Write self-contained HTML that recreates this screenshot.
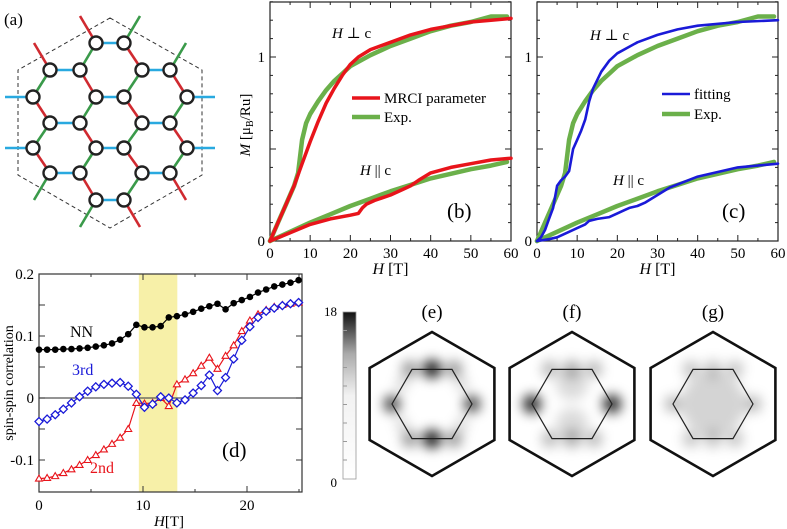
<!DOCTYPE html>
<html><head><meta charset="utf-8"><style>
body{margin:0;background:#fff}
svg{display:block}
svg text{font-family:"Liberation Serif","DejaVu Serif",serif}
</style></head><body>
<svg id="fig" width="787" height="529" viewBox="0 0 787 529" xmlns="http://www.w3.org/2000/svg" font-family="Liberation Serif, serif">
<defs>
<filter id="blur" x="-50%" y="-50%" width="200%" height="200%"><feGaussianBlur stdDeviation="6"/></filter>
<linearGradient id="cbar" x1="0" y1="1" x2="0" y2="0">
<stop offset="0" stop-color="#fff"/><stop offset="0.5" stop-color="#f2f2f2"/><stop offset="0.75" stop-color="#aaa"/><stop offset="1" stop-color="#111"/></linearGradient>
</defs>
<g id="pa"></g>
<g id="pb"></g>
<g id="pc"></g>
<g id="pd"></g>
<g id="pe"></g>
</svg>
<script>
// ---------- data ----------
const mrciPerpH=[0,2,4,6,8,10,12,14,16,18,20,22,25,30,35,40,45,50,55,60];
const mrciPerp=[0,0.1,0.2,0.3,0.42,0.54,0.65,0.75,0.83,0.9,0.96,1.0,1.04,1.08,1.12,1.15,1.17,1.19,1.2,1.21];
const expPerpH=[0,2,4,6,7,8,9,10,12,14,16,18,20,25,30,35,40,45,50,55,59];
const expPerp=[0,0.1,0.2,0.3,0.37,0.55,0.64,0.69,0.76,0.82,0.87,0.91,0.95,1.01,1.06,1.1,1.14,1.17,1.19,1.22,1.22];
const mrciParH=[0,5,10,15,20,22,23,24,26,30,33,35,37,40,45,50,55,60];
const mrciPar=[0,0.045,0.09,0.12,0.14,0.15,0.18,0.2,0.22,0.25,0.28,0.3,0.33,0.37,0.4,0.42,0.44,0.45];
const expParH=[0,5,10,15,20,25,30,35,40,45,50,55,59];
const expPar=[0,0.05,0.1,0.145,0.19,0.23,0.27,0.305,0.34,0.365,0.39,0.41,0.43];
const fitPerpH=[0,1,2,3,4,5,6,7,8,9,10,11,12,13,14,16,18,20,25,30,35,40,50,60];
const fitPerp=[0,0.02,0.06,0.12,0.18,0.3,0.33,0.35,0.38,0.5,0.55,0.6,0.66,0.76,0.83,0.92,0.98,1.02,1.08,1.12,1.15,1.17,1.19,1.2];
const fitParH=[0,3,5,8,10,12,13,15,18,20,22,23,25,27,30,33,40,50,60];
const fitPar=[0,0.01,0.02,0.05,0.07,0.09,0.11,0.12,0.13,0.15,0.17,0.18,0.19,0.21,0.25,0.29,0.35,0.4,0.42];
const mTicks=["0","1"];
const hTicks=["0","10","20","30","40","50","60"];
const corrNN=[0.078,0.078,0.078,0.079,0.079,0.080,0.081,0.083,0.085,0.088,0.094,0.103,0.118,0.114,0.114,0.116,0.130,0.132,0.135,0.139,0.144,0.148,0.152,0.143,0.153,0.158,0.163,0.170,0.175,0.180,0.183,0.186,0.190];
const corr3rd=[-0.038,-0.034,-0.027,-0.018,-0.008,0.002,0.011,0.018,0.022,0.024,0.025,0.019,0.006,-0.015,-0.010,0.002,0.000,-0.008,-0.003,0.008,0.020,0.037,0.012,0.033,0.063,0.093,0.115,0.130,0.140,0.145,0.149,0.152,0.154];
const corr2nd=[-0.130,-0.129,-0.126,-0.121,-0.115,-0.108,-0.100,-0.092,-0.083,-0.074,-0.064,-0.050,-0.008,-0.009,-0.008,0.000,-0.013,0.022,0.030,0.040,0.052,0.065,0.047,0.068,0.085,0.108,0.125,0.135,0.142,0.147,0.150,0.152,0.154];
const corrStep=0.78;
const dYTicks=[0.2,0.1,0,-0.1];
const dYLabels=["0.2","0.1","0","-0.1"];
const dXTicks=["0","10","20"];
const bandRange=[9.6,13.3];

const NS="http://www.w3.org/2000/svg";
function mk(parent,tag,attrs,text){const e=document.createElementNS(NS,tag);for(const k in attrs)e.setAttribute(k,attrs[k]);if(tag==='text')e.setAttribute('font-family','Liberation Serif, DejaVu Serif, serif');if(text!==undefined)e.textContent=text;parent.appendChild(e);return e;}

// ---------- panel a ----------
const pa=document.getElementById('pa');
const A=[[96,43],[50,70],[142,70],[96,97],[50,123],[142,123],[96,148],[50,173],[142,173],[96,200],[187,97],[187,148]];
const B=[[124,43],[80,70],[170,70],[124,97],[33,97],[80,123],[170,123],[124,148],[33,148],[80,173],[170,173],[124,200]];
let hx=mk(pa,'polygon',{points:"110,18 202,70 202,175 110,228 18,175 18,70",fill:"none",stroke:"#333","stroke-dasharray":"4,3","stroke-width":1});

function find(list,x,y){return list.find(p=>Math.abs(p[0]-x)<6&&Math.abs(p[1]-y)<6);}
const vecsA=[[28,0,'#29a9e0'],[-16,27,'#3a9a4a'],[-16,-27,'#d02a30']];
A.forEach(p=>vecsA.forEach(v=>{const tx=p[0]+v[0],ty=p[1]+v[1];const q=find(B,tx,ty)||[tx,ty];
 let l=mk(pa,'line',{x1:p[0],y1:p[1],x2:q[0],y2:q[1],stroke:v[2],"stroke-width":2.6});
 }));
const vecsB=[[-28,0,'#29a9e0'],[16,27,'#d02a30'],[16,-27,'#3a9a4a']];
B.forEach(p=>vecsB.forEach(v=>{const tx=p[0]+v[0],ty=p[1]+v[1];if(find(A,tx,ty))return;
 let l=mk(pa,'line',{x1:p[0],y1:p[1],x2:tx,y2:ty,stroke:v[2],"stroke-width":2.6});
 }));
A.concat(B).forEach(p=>{let c=mk(pa,'circle',{cx:p[0],cy:p[1],r:6.5,fill:"#fff",stroke:"#222","stroke-width":2.4});
 });
let ta=mk(pa,'text',{x:4,y:25,"font-size":17},"(a)");

// ---------- panels b, c ----------
function magPanel(g,x0,x1,series,leg,label,perpPos,parPos){
 const y0=241,yTop=2,ppu=184;
 const xs=h=>x0+h*(x1-x0)/60, ys=m=>y0-m*ppu;
 let box=mk(g,'rect',{x:x0,y:yTop,width:x1-x0,height:y0-yTop,fill:"none",stroke:"#222","stroke-width":1.2});
 
 for(let h=0;h<=60;h+=5){const L=h%10==0?6:3;
  mk(g,'line',{x1:xs(h),x2:xs(h),y1:y0,y2:y0-L,stroke:"#222"});mk(g,'line',{x1:xs(h),x2:xs(h),y1:yTop,y2:yTop+L,stroke:"#222"});}
 for(let m=0;m<=13;m++){const L=m%5==0?6:3;
  mk(g,'line',{x1:x0,x2:x0+L,y1:ys(m/10),y2:ys(m/10),stroke:"#222"});mk(g,'line',{x1:x1,x2:x1-L,y1:ys(m/10),y2:ys(m/10),stroke:"#222"});}
 hTicks.forEach((t,i)=>{let e=mk(g,'text',{x:xs(i*10),y:258,"font-size":15,"text-anchor":"middle"},t);
  });
 mTicks.forEach((t,i)=>{let e=mk(g,'text',{x:x0-5,y:ys(i)+5,"font-size":15,"text-anchor":"end"},t);
  });
 let xt=mk(g,'text',{x:(x0+x1)/2,y:274,"font-size":16,"text-anchor":"middle"});
 xt.innerHTML='<tspan font-style="italic">H</tspan> [T]';
 series.forEach(s=>{const pts=s.h.map((h,i)=>xs(h).toFixed(1)+','+ys(s.m[i]).toFixed(1)).join(' ');
  let p=mk(g,'polyline',{points:pts,fill:"none",stroke:s.c,"stroke-width":s.w,"stroke-linejoin":"round","stroke-linecap":"round"});
  });
 leg.forEach(l=>{let lg=mk(g,'g',{});
  mk(lg,'line',{x1:l.x,x2:l.x+28,y1:l.y,y2:l.y,stroke:l.c,"stroke-width":l.w});
  mk(lg,'text',{x:l.x+32,y:l.y+5,"font-size":15},l.t);});
 let p1=mk(g,'text',{x:perpPos[0],y:perpPos[1],"font-size":15});p1.innerHTML='<tspan font-style="italic">H</tspan> ⊥ c';
 
 let p2=mk(g,'text',{x:parPos[0],y:parPos[1],"font-size":15});p2.innerHTML='<tspan font-style="italic">H</tspan> || c';
 
 let pl=mk(g,'text',{x:label[1],y:218,"font-size":21},label[0]);
}
const pb=document.getElementById('pb');
magPanel(pb,270,511,[
 {h:expPerpH,m:expPerp,c:"#6bb04a",w:4.5,name:"exp-perp-curve"},
 {h:expParH,m:expPar,c:"#6bb04a",w:4.5,name:"exp-par-curve"},
 {h:mrciPerpH,m:mrciPerp,c:"#e8141b",w:3.5,name:"mrci-perp-curve"},
 {h:mrciParH,m:mrciPar,c:"#e8141b",w:3.5,name:"mrci-par-curve"}],
 [{x:352,y:98,c:"#e8141b",w:3.5,t:"MRCI parameter"},{x:352,y:117,c:"#6bb04a",w:4.5,t:"Exp."}],["(b)",447],[332,38],[360,175]);
let yt=mk(pb,'text',{transform:"translate(250,125) rotate(-90)","font-size":15,"text-anchor":"middle"});
yt.innerHTML='<tspan font-style="italic">M</tspan> [μ<tspan font-size="10" dy="3">B</tspan><tspan dy="-3">/Ru]</tspan>';

const pc=document.getElementById('pc');
magPanel(pc,537,778,[
 {h:expPerpH,m:expPerp,c:"#6bb04a",w:4.5,name:"exp-perp-curve"},
 {h:expParH,m:expPar,c:"#6bb04a",w:4.5,name:"exp-par-curve"},
 {h:fitPerpH,m:fitPerp,c:"#1a1ad8",w:2.6,name:"fit-perp-curve"},
 {h:fitParH,m:fitPar,c:"#1a1ad8",w:2.6,name:"fit-par-curve"}],
 [{x:662,y:94,c:"#1a1ad8",w:2.6,t:"fitting"},{x:662,y:114,c:"#6bb04a",w:4.5,t:"Exp."}],["(c)",722],[590,40],[613,185]);

// ---------- panel d ----------
const pd=document.getElementById('pd');
const dx0=39,dx1=302,dyT=274,dyB=492;
const dxs=h=>dx0+h*10.4, dys=v=>398-v*620;
let band=mk(pd,'rect',{x:dxs(bandRange[0]),y:dyT,width:dxs(bandRange[1])-dxs(bandRange[0]),height:dyB-dyT,fill:"#f7f0a8"});

let fr=mk(pd,'rect',{x:dx0,y:dyT,width:dx1-dx0,height:dyB-dyT,fill:"none",stroke:"#333","stroke-width":1.2});

let zl=mk(pd,'line',{x1:dx0,x2:dx1,y1:dys(0),y2:dys(0),stroke:"#555","stroke-width":1.3});

for(let h=0;h<=25;h+=5){const L=h%10==0?6:3;mk(pd,'line',{x1:dxs(h),x2:dxs(h),y1:dyB,y2:dyB-L,stroke:"#333"});mk(pd,'line',{x1:dxs(h),x2:dxs(h),y1:dyT,y2:dyT+L,stroke:"#333"});}
for(let v=-0.1;v<=0.21;v+=0.05){const L=6;mk(pd,'line',{x1:dx0,x2:dx0+L,y1:dys(v),y2:dys(v),stroke:"#333"});mk(pd,'line',{x1:dx1,x2:dx1-L,y1:dys(v),y2:dys(v),stroke:"#333"});}
dYTicks.forEach((v,i)=>{let e=mk(pd,'text',{x:dx0-5,y:dys(v)+5,"font-size":15,"text-anchor":"end"},dYLabels[i]);});
dXTicks.forEach((t,i)=>{let e=mk(pd,'text',{x:dxs(i*10),y:510,"font-size":15,"text-anchor":"middle"},t);});
let dxt=mk(pd,'text',{x:dxs(12.5),y:526,"font-size":15,"text-anchor":"middle"});dxt.innerHTML='<tspan font-style="italic">H</tspan>[T]';

let dyt=mk(pd,'text',{transform:"translate(13,383) rotate(-90)","font-size":14,"text-anchor":"middle"},"spin-spin correlation");

function series(vals,color,marker,name){const pts=vals.map((v,i)=>[dxs(i*corrStep),dys(v)]);
 let l=mk(pd,'polyline',{points:pts.map(p=>p.join(',')).join(' '),fill:"none",stroke:color,"stroke-width":1.2});
 
 pts.forEach(p=>{let m;
  if(marker=='dot')m=mk(pd,'circle',{cx:p[0],cy:p[1],r:3.3,fill:color});
  else if(marker=='dia')m=mk(pd,'polygon',{points:`${p[0]},${p[1]-4} ${p[0]+4},${p[1]} ${p[0]},${p[1]+4} ${p[0]-4},${p[1]}`,fill:"#fff",stroke:color,"stroke-width":1.3});
  else m=mk(pd,'polygon',{points:`${p[0]},${p[1]-3.5} ${p[0]+3.5},${p[1]+2.5} ${p[0]-3.5},${p[1]+2.5}`,fill:"#fff",stroke:color,"stroke-width":1.1});
  });}
series(corr2nd,"#e8141b","tri","second-neighbor");
series(corr3rd,"#1a1ad8","dia","third-neighbor");
series(corrNN,"#000","dot","nearest-neighbor");
[["NN",70,337,"#000"],["3rd",72,375,"#1a1ad8"],["2nd",90,473,"#e8141b"]].forEach(a=>{let e=mk(pd,'text',{x:a[1],y:a[2],"font-size":16,fill:a[3]},a[0]);});
let dl=mk(pd,'text',{x:222,y:457,"font-size":21},"(d)");

// ---------- panels e,f,g ----------
const pe=document.getElementById('pe');
let cb=mk(pe,'rect',{x:343,y:312,width:13,height:167,fill:"url(#cbar)",stroke:"#999","stroke-width":0.8});

for(let i=1;i<9;i++)mk(pe,'line',{x1:343,x2:347,y1:312+i*18.5,y2:312+i*18.5,stroke:"#999"});
[["18",311],["0",482]].forEach(a=>{let e=mk(pe,'text',{x:337,y:a[1]+5,"font-size":13,"text-anchor":"end"},a[0]);});
function hexPts(cx,cy,r,pointy){let s=[];for(let k=0;k<6;k++){const a=(pointy?-90:0)+k*60;s.push((cx+r*Math.cos(a*Math.PI/180)).toFixed(1)+','+(cy+r*Math.sin(a*Math.PI/180)).toFixed(1));}return s.join(' ');}
const maps=[
 {cx:432,lab:"(e)",blobs:[[0,-35,9,0.95],[0,35,9,0.95],[-40,0,8,0.8],[40,0,8,0.8],[-22,-35,8,0.45],[22,-35,8,0.45],[-22,35,8,0.45],[22,35,8,0.45],[-30,-20,6,0.2],[30,-20,6,0.2],[-30,20,6,0.2],[30,20,6,0.2]]},
 {cx:572,lab:"(f)",blobs:[[-40,0,9,0.9],[40,0,9,0.9],[0,-35,9,0.3],[0,35,9,0.3],[-22,-35,8,0.3],[22,-35,8,0.3],[-22,35,8,0.3],[22,35,8,0.3],[0,-20,16,0.14],[0,20,16,0.14]]},
 {cx:713,lab:"(g)",blobs:[[0,0,32,0.17],[-40,0,8,0.3],[40,0,8,0.3],[0,-35,9,0.22],[0,35,9,0.22],[-22,-35,8,0.25],[22,-35,8,0.25],[-22,35,8,0.25],[22,35,8,0.25]]}];
maps.forEach(m=>{const cy=404;let g=mk(pe,'g',{});
 let bg=mk(g,'g',{filter:"url(#blur)"});
 m.blobs.forEach(b=>{let c=mk(bg,'circle',{cx:m.cx+b[0],cy:cy+b[1],r:b[2],fill:"#000","fill-opacity":b[3]});});
 let inn=mk(g,'polygon',{points:hexPts(m.cx,cy,40,false),fill:"none",stroke:"#222","stroke-width":1.2});
 let out=mk(g,'polygon',{points:hexPts(m.cx,cy,72,true),fill:"none",stroke:"#111","stroke-width":2.6});
 let t=mk(g,'text',{x:m.cx,y:318,"font-size":19,"text-anchor":"middle"},m.lab);});
</script>
</body></html>
